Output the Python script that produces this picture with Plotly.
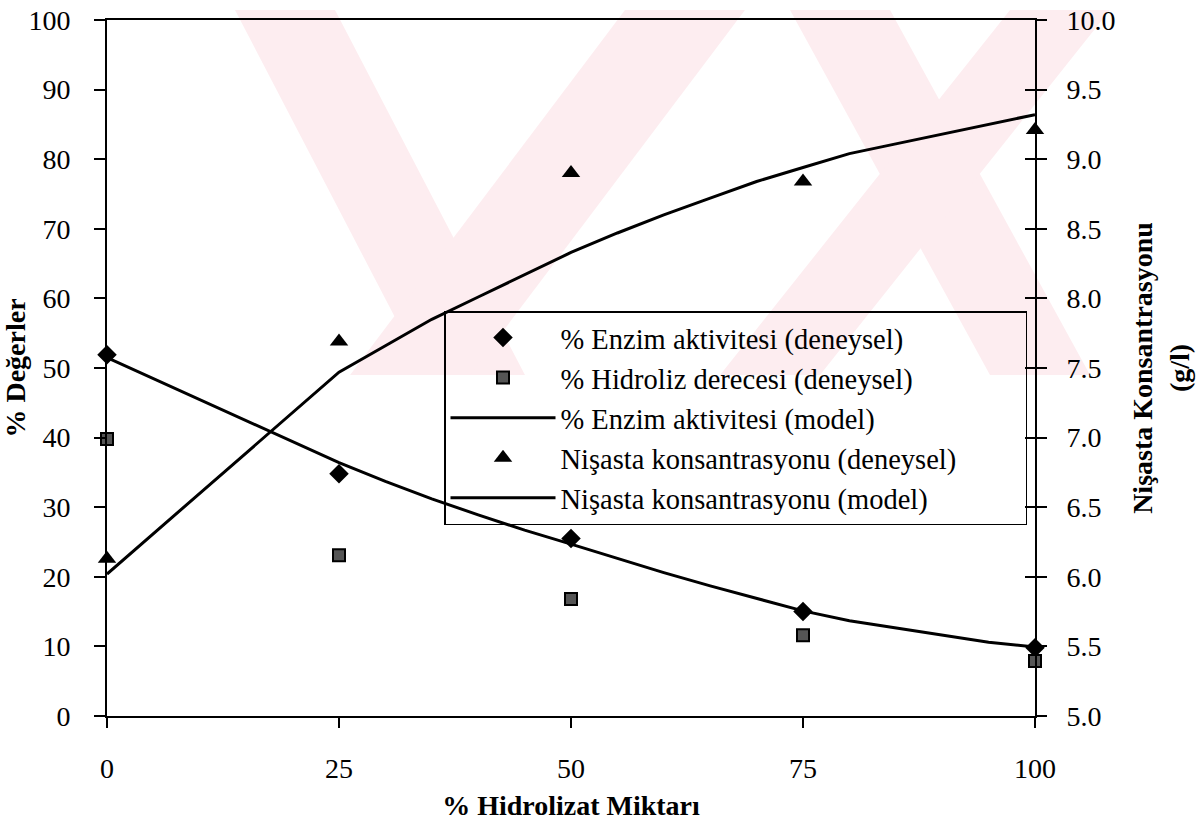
import plotly.graph_objects as go

# ---------------- data ----------------
x_exp = [0, 25, 50, 75, 100]
enzim_exp = [51.9, 34.8, 25.5, 15.0, 9.8]          # % Enzim aktivitesi (deneysel)
hidroliz_exp = [39.8, 23.1, 16.8, 11.6, 7.9]        # % Hidroliz derecesi (deneysel)
nisasta_exp = [6.13, 7.69, 8.90, 8.84, 9.21]        # Nişasta konsantrasyonu (deneysel), g/l

x_model = [0, 5, 10, 15, 20, 25, 30, 35, 40, 45, 50, 55, 60, 65, 70, 75, 80, 85, 90, 95, 100]
enzim_model = [51.5, 48.5, 45.5, 42.5, 39.5, 36.4, 33.7, 31.2, 28.9, 26.7, 24.7, 22.6,
               20.6, 18.7, 16.9, 15.1, 13.7, 12.7, 11.6, 10.6, 9.9]
nisasta_model = [6.02, 6.31, 6.60, 6.89, 7.18, 7.47, 7.66, 7.85, 8.01, 8.17, 8.33, 8.47,
                 8.60, 8.72, 8.84, 8.94, 9.04, 9.11, 9.18, 9.25, 9.32]

x_ticks = [0, 25, 50, 75, 100]

names = ["% Enzim aktivitesi (deneysel)", "% Hidroliz derecesi (deneysel)",
         "% Enzim aktivitesi (model)", "Nişasta konsantrasyonu (deneysel)",
         "Nişasta konsantrasyonu (model)"]

FONT = "Liberation Serif, Times New Roman, serif"
FS = 28
LFS = 28.5
PAD = "\u00a0" * 9   # right padding inside the legend box

# ------------- geometry helpers (for watermark only) -------------
PL, PR, PT, PB = 107, 1035, 20, 716
def px(xp):
    return (xp - PL) / (PR - PL)
def py(yp):
    return (PB - yp) / (PB - PT)

def poly(points):
    d = "M " + " L ".join(f"{px(a):.4f},{py(b):.4f}" for a, b in points) + " Z"
    return dict(type="path", path=d, xref="paper", yref="paper",
                fillcolor="#fdedf0", line=dict(width=0), layer="below")

wm = [
    [(235, 10), (335, 10), (525, 375), (425, 375)],
    [(625, 10), (745, 10), (470, 375), (350, 375)],
    [(790, 10), (890, 10), (1090, 375), (990, 375)],
    [(1010, 10), (1110, 10), (820, 375), (720, 375)],
]
shapes = [poly(p) for p in wm]

fig = go.Figure()

fig.add_trace(go.Scatter(
    x=x_exp, y=enzim_exp, mode="markers", name=names[0] + PAD,
    marker=dict(symbol="diamond", size=15, color="black"), cliponaxis=False))
fig.add_trace(go.Scatter(
    x=x_exp, y=hidroliz_exp, mode="markers", name=names[1] + PAD,
    marker=dict(symbol="square", size=12, color="#555555", line=dict(color="black", width=2)),
    cliponaxis=False))
fig.add_trace(go.Scatter(
    x=x_model, y=enzim_model, mode="lines", name=names[2] + PAD,
    line=dict(color="black", width=3), cliponaxis=False))
fig.add_trace(go.Scatter(
    x=x_exp, y=nisasta_exp, mode="markers", name=names[3] + PAD,
    marker=dict(symbol="triangle-up", size=16, color="black"), yaxis="y2", cliponaxis=False))
fig.add_trace(go.Scatter(
    x=x_model, y=nisasta_model, mode="lines", name=names[4] + PAD,
    line=dict(color="black", width=3), yaxis="y2", cliponaxis=False))
# helper trace so the inner tick axis on the right is drawn
fig.add_trace(go.Scatter(x=[0], y=[5], mode="markers", marker=dict(opacity=0),
                         yaxis="y3", showlegend=False, hoverinfo="skip"))

axis_common = dict(showgrid=False, zeroline=False, showline=True, linecolor="black",
                   linewidth=2, tickcolor="black", tickwidth=2, automargin=False,
                   tickfont=dict(family=FONT, size=FS, color="black"))

fig.update_layout(
    width=1203, height=828,
    margin=dict(l=PL, r=1203 - PR, t=PT, b=828 - PB, autoexpand=False),
    paper_bgcolor="white", plot_bgcolor="rgba(0,0,0,0)",
    font=dict(family=FONT, size=FS, color="black"),
    shapes=shapes,
    showlegend=True,
    legend=dict(x=px(444), y=py(311), xanchor="left", yanchor="top",
                bgcolor="rgba(0,0,0,0)", bordercolor="black", borderwidth=1.5,
                font=dict(family=FONT, size=LFS, color="black"),
                itemwidth=105, tracegroupgap=0),
    xaxis=dict(range=[0, 100], tickvals=x_ticks, ticks="outside", ticklen=10,
               mirror=True, ticklabelstandoff=16,
               title=dict(text="<b>% Hidrolizat Miktarı</b>", font=dict(family=FONT, size=FS),
                          standoff=13),
               **axis_common),
    yaxis=dict(range=[0, 100], dtick=10, ticks="outside", ticklen=11, ticklabelstandoff=18,
               title=dict(text="<b>% Değerler</b>", font=dict(family=FONT, size=FS), standoff=3),
               **axis_common),
    yaxis2=dict(range=[5, 10], dtick=0.5, tick0=5, tickformat=".1f", overlaying="y",
                side="right", ticks="outside", ticklen=10, ticklabelstandoff=14,
                title=dict(text="<b>Nişasta Konsantrasyonu<br>(g/l)</b>",
                           font=dict(family=FONT, size=FS), standoff=18),
                **axis_common),
    yaxis3=dict(range=[5, 10], dtick=0.5, tick0=5, overlaying="y", side="right",
                ticks="inside", ticklen=10, tickwidth=2, tickcolor="black", automargin=False,
                showticklabels=False, showline=False, showgrid=False, zeroline=False),
)

fig.write_html("out.html")
